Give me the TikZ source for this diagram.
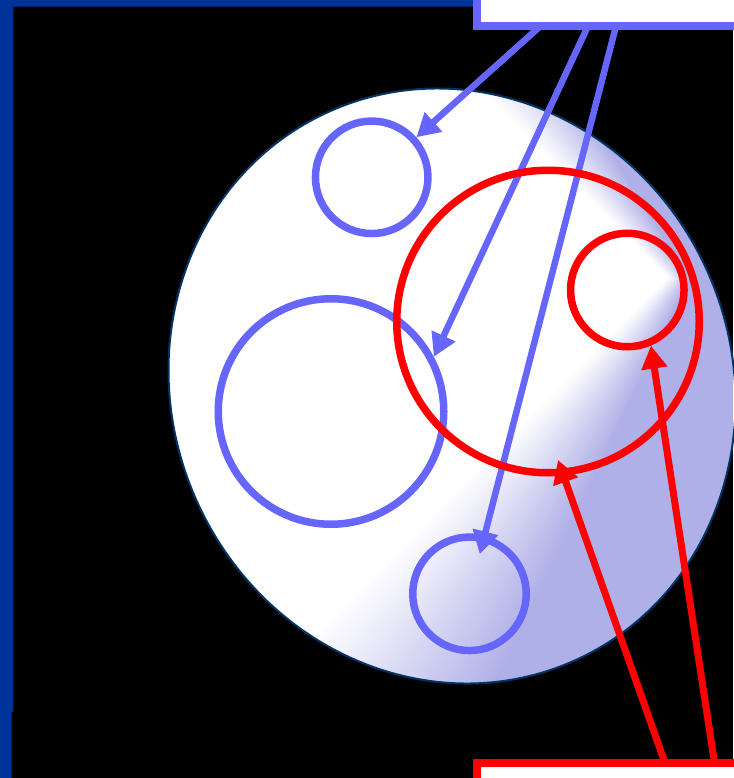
\documentclass[tikz,border=0pt]{standalone}
\usetikzlibrary{arrows.meta,calc}
\definecolor{frameblue}{RGB}{0,51,153}
\definecolor{pblue}{RGB}{102,102,255}
\definecolor{lav}{RGB}{176,176,232}
\definecolor{navy}{RGB}{0,51,102}
\tikzset{
  ring/.style={circle, draw, line width=7.5pt, inner sep=0pt},
  bring/.style={ring, draw=pblue},
  rring/.style={ring, draw=red},
  barrow/.style={draw=pblue, line width=6.5pt, -{Triangle[length=23pt,width=25pt]}},
  rarrow/.style={draw=red, line width=7pt, -{Triangle[length=23pt,width=25pt]}},
  boxnode/.style={rectangle, line width=8pt, fill=white, inner sep=0pt},
  blob/.style={shift={(452,386)}, rotate=23.7}
}
\begin{document}
\begin{tikzpicture}[x=1pt,y=-1pt]
\useasboundingbox (0,0) rectangle (733,778);
\fill[black] (0,0) rectangle (733,778);
% frame
\fill[frameblue] (0,0) rectangle (13.3,712) (0,712) rectangle (11.7,778) (0,0) rectangle (480,6.7);
% shaded blob
\begin{scope}
  \clip[blob] (0,0) ellipse [x radius=280, y radius=300.7];
  \fill[lav] (0,0) rectangle (733,778);
  \foreach \i in {0,...,40}{
    \pgfmathsetmacro{\t}{1-\i/40}
    \pgfmathsetmacro{\vx}{668+22*\t}
    \pgfmathsetmacro{\lx}{\vx+1200*(-1+0.53*\t)}
    \pgfmathsetmacro{\ux}{\vx+1200*(-1+0.38*\t)}
    \pgfmathsetmacro{\pc}{100*(\t^1.2)}
    \fill[lav!\pc!white] (\vx,278) -- (\lx,1478) -- (-1500,1478) -- (-1500,-922) -- (\ux,-922) -- cycle;
  }
\end{scope}
\draw[navy, line width=2pt, blob] (0,0) ellipse [x radius=280, y radius=300.7];
% blue circles
\node[bring, minimum size=112.5pt] (c1) at (371.7,177.3) {};
\node[bring, minimum size=225.5pt] (c2) at (331,411.5) {};
\node[bring, minimum size=113.5pt] (c3) at (469.5,593.8) {};
% blue arrows
\coordinate (s1) at (540.5,26);
\coordinate (s2) at (588,26);
\coordinate (s3) at (616,26);
\draw[barrow] (s1) -- (c1);
\draw[barrow] (s2) -- (c2.28);
\draw[barrow, shorten >=41pt] (s3) -- (c3.center);
% red circles
\node[rring, minimum size=302.5pt] (c4) at (548,321.5) {};
\node[rring, minimum size=113.5pt] (c5) at (627.3,290) {};
% red arrows
\coordinate (r1) at (665,763);
\coordinate (r2) at (714.5,763);
\coordinate (tA) at (558,460);
\draw[rarrow] (r1) -- (tA);
\draw[rarrow] (r2) -- (c5.-67);
% boxes
\node[boxnode, draw=pblue, minimum width=323.3pt, minimum height=76pt] (topbox) at (638.35,-12) {};
\node[boxnode, draw=red, minimum width=323.3pt, minimum height=87.3pt] (botbox) at (638.35,806.35) {};
\end{tikzpicture}
\end{document}
